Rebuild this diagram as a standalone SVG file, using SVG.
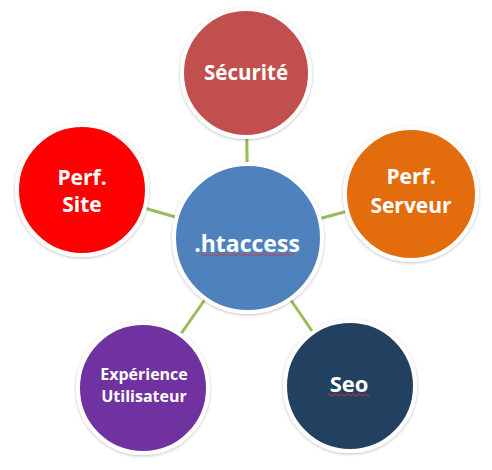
<svg xmlns="http://www.w3.org/2000/svg" width="492" height="470" viewBox="0 0 492 470">
<defs>
<filter id="sh" x="-20%" y="-20%" width="140%" height="140%">
<feDropShadow dx="0" dy="1" stdDeviation="1.5" flood-color="#000" flood-opacity="0.25"/>
</filter>
</defs>
<style>
.n circle{stroke:#fff;stroke-width:4;filter:url(#sh)}
.t{font-family:"Open Sans","Liberation Sans",sans-serif;font-weight:bold;fill:#fff;text-anchor:middle}
.c line{stroke:#9bbb59;stroke-width:3}
.w{fill:none;stroke:#e03030;stroke-width:1}
</style>
<rect width="492" height="470" fill="#fff"/>
<g id="connectors" class="c">
<line x1="248" y1="238" x2="246" y2="73"/>
<line x1="248" y1="238" x2="82" y2="190"/>
<line x1="248" y1="238" x2="411" y2="194"/>
<line x1="248" y1="238" x2="143" y2="388"/>
<line x1="248" y1="238" x2="350" y2="386"/>
</g>
<g id="securite" class="n">
<circle cx="246" cy="73" r="64" fill="#c0504d"/>
<text class="t" x="246" y="80" font-size="20.5">Sécurité</text>
</g>
<g id="perf-site" class="n">
<circle cx="82" cy="190" r="65" fill="#ff0000"/>
<text class="t" x="82" y="185" font-size="21">Perf.</text>
<text class="t" x="82" y="212" font-size="21">Site</text>
</g>
<g id="perf-serveur" class="n">
<circle cx="411" cy="194" r="66" fill="#e36c09"/>
<text class="t" x="411" y="184" font-size="21">Perf.</text>
<text class="t" x="411" y="213" font-size="21">Serveur</text>
</g>
<g id="experience" class="n">
<circle cx="143" cy="388" r="65" fill="#7030a0"/>
<text class="t" x="144" y="380" font-size="16">Expérience</text>
<text class="t" x="144" y="402" font-size="16">Utilisateur</text>
</g>
<g id="seo" class="n">
<circle cx="350" cy="386" r="65" fill="#243f60"/>
<text class="t" x="349" y="392" font-size="22">Seo</text>
<path class="w" d="M328 395 q1.5 -2 3 0 t3 0 t3 0 t3 0 t3 0 t3 0 t3 0 t3 0 t3 0 t3 0 t3 0 t3 0 t3 0 t2 0"/>
</g>
<g id="htaccess" class="n">
<circle cx="248" cy="238" r="74" fill="#4f81bd"/>
<text class="t" x="247" y="252" font-size="23">.htaccess</text>
<path class="w" d="M201 255 q1.5 -2 3 0 t3 0 t3 0 t3 0 t3 0 t3 0 t3 0 t3 0 t3 0 t3 0 t3 0 t3 0 t3 0 t3 0 t3 0 t3 0 t3 0 t3 0 t3 0 t3 0 t3 0 t3 0 t3 0 t3 0 t3 0 t3 0 t3 0 t3 0 t3 0 t3 0 t3 0"/>
</g>
</svg>
